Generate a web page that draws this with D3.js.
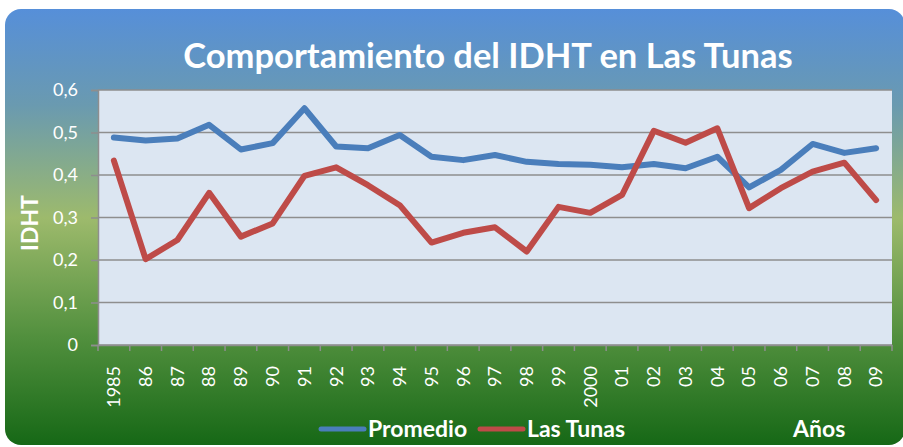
<!DOCTYPE html>
<html>
<head>
<meta charset="utf-8">
<script src="https://cdn.jsdelivr.net/npm/d3@7"></script>
<style>
  body { margin: 0; background: #fff; }
  text { font-family: Lato, "Open Sans", sans-serif; fill: #fff; }
</style>
</head>
<body>
<svg id="chart" width="903" height="447"></svg>
<script>
// data
var years = ["1985", "86", "87", "88", "89", "90", "91", "92", "93", "94", "95", "96", "97",
             "98", "99", "2000", "01", "02", "03", "04", "05", "06", "07", "08", "09"];
var promedio = [0.488, 0.481, 0.486, 0.518, 0.460, 0.475, 0.557, 0.467, 0.463, 0.494, 0.443, 0.435, 0.447,
                0.431, 0.426, 0.424, 0.418, 0.426, 0.416, 0.443, 0.371, 0.412, 0.473, 0.452, 0.463];
var lasTunas = [0.434, 0.202, 0.247, 0.358, 0.255, 0.286, 0.398, 0.418, 0.376, 0.329, 0.241, 0.264, 0.277,
                0.220, 0.325, 0.311, 0.353, 0.504, 0.476, 0.510, 0.322, 0.369, 0.408, 0.429, 0.341];
var yTicks = [0, 0.1, 0.2, 0.3, 0.4, 0.5, 0.6];
var seriesNames = ["Promedio", "Las Tunas"];
var colors = ["#4a7ebb", "#be4b48"];

var svg = d3.select("#chart");

// background gradient card
var defs = svg.append("defs");
var grad = defs.append("linearGradient")
    .attr("id", "bg")
    .attr("x1", 0).attr("y1", 0).attr("x2", 0).attr("y2", 1);
grad.append("stop").attr("offset", "0%").attr("stop-color", "#568fd9");
grad.append("stop").attr("offset", "22%").attr("stop-color", "#6a9ab0");
grad.append("stop").attr("offset", "48%").attr("stop-color", "#9dba6c");
grad.append("stop").attr("offset", "75%").attr("stop-color", "#52903e");
grad.append("stop").attr("offset", "100%").attr("stop-color", "#166816");

svg.append("rect")
    .attr("x", 5).attr("y", 9)
    .attr("width", 900).attr("height", 436)
    .attr("rx", 16).attr("ry", 16)
    .attr("fill", "url(#bg)");

var margin = {left: 98, top: 90, right: 11, bottom: 102};
var width = 903 - margin.left - margin.right;
var height = 447 - margin.top - margin.bottom;

var x = d3.scaleBand().domain(years).range([0, width]);
var y = d3.scaleLinear().domain([0, 0.6]).range([height, 0]);

var g = svg.append("g").attr("transform", `translate(${margin.left},${margin.top})`);

g.append("rect")
    .attr("width", width).attr("height", height)
    .attr("fill", "#dce6f2");

// gridlines
g.selectAll(".grid")
    .data(yTicks)
    .enter().append("line")
    .attr("x1", 0).attr("x2", width)
    .attr("y1", d => y(d)).attr("y2", d => y(d))
    .attr("stroke", "#8e8e8e")
    .attr("stroke-width", 1.5);

// y axis
var fmt = d => d3.format(".1f")(d).replace(".", ",").replace(/^0,0$/, "0");
var yAxis = g.append("g")
    .call(d3.axisLeft(y).tickValues(yTicks).tickSize(7).tickPadding(13).tickFormat(fmt));
yAxis.select(".domain").attr("stroke", "#8e8e8e").attr("stroke-width", 1.5);
yAxis.selectAll(".tick line").attr("stroke", "#8e8e8e").attr("stroke-width", 1.5);
yAxis.selectAll(".tick text")
    .style("font-size", "18px")
    .attr("fill", "#fff");

// x axis, ticks between categories
var xAxis = g.append("g")
    .attr("transform", `translate(0,${height})`)
    .call(d3.axisBottom(x).tickSize(0).tickFormat(d => d));
xAxis.select(".domain").attr("stroke", "#8e8e8e").attr("stroke-width", 1.5);
xAxis.selectAll(".tick text")
    .attr("transform", "rotate(-90)")
    .attr("text-anchor", "end")
    .attr("x", -21)
    .attr("y", 0)
    .attr("dy", "0.35em")
    .style("font-size", "18px")
    .attr("fill", "#fff");
xAxis.selectAll(".sep")
    .data(years.concat(["end"]))
    .enter().append("line")
    .attr("x1", (d, i) => i * x.step())
    .attr("x2", (d, i) => i * x.step())
    .attr("y1", 0).attr("y2", 6)
    .attr("stroke", "#8e8e8e")
    .attr("stroke-width", 1.5);

// lines
var line = d3.line()
    .x((d, i) => x(years[i]) + x.bandwidth() / 2)
    .y(d => y(d));

[promedio, lasTunas].forEach((serie, i) => {
    g.append("path")
        .datum(serie)
        .attr("d", line)
        .attr("fill", "none")
        .attr("stroke", colors[i])
        .attr("stroke-width", 6)
        .attr("stroke-linejoin", "round")
        .attr("stroke-linecap", "round");
});

// title
svg.append("text")
    .attr("x", 488).attr("y", 68)
    .attr("text-anchor", "middle")
    .style("font-size", "34.5px")
    .style("font-weight", "bold")
    .text("Comportamiento del IDHT en Las Tunas");

// y axis title
svg.append("text")
    .attr("transform", "translate(38,223) rotate(-90)")
    .attr("text-anchor", "middle")
    .style("font-size", "23px")
    .style("font-weight", "bold")
    .text("IDHT");

// legend
var legendX = [321, 480];
seriesNames.forEach((name, i) => {
    svg.append("line")
        .attr("x1", legendX[i]).attr("x2", legendX[i] + 43)
        .attr("y1", 429).attr("y2", 429)
        .attr("stroke", colors[i])
        .attr("stroke-width", 5)
        .attr("stroke-linecap", "round");
    svg.append("text")
        .attr("x", legendX[i] + 47).attr("y", 437)
        .style("font-size", "23px")
        .style("font-weight", "bold")
        .text(name);
});

svg.append("text")
    .attr("x", 793).attr("y", 437)
    .style("font-size", "23px")
    .style("font-weight", "bold")
    .text("Años");
</script>
</body>
</html>
